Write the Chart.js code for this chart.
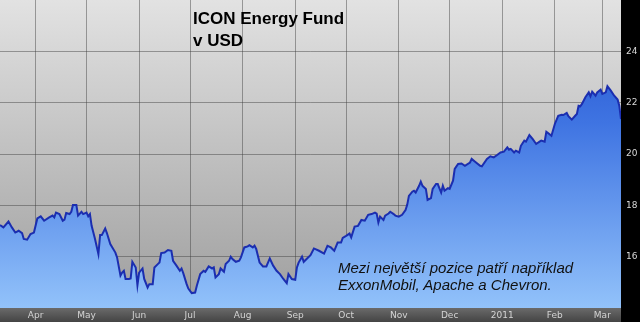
<!DOCTYPE html>
<html>
<head>
<meta charset="utf-8">
<script src="https://cdn.jsdelivr.net/npm/chart.js@4.4.0/dist/chart.umd.min.js"></script>
<style>
  html, body { margin: 0; padding: 0; background: #000; }
  #wrap { position: relative; width: 640px; height: 322px; }
  canvas { display: block; }
  .title { position: absolute; left: 193px; top: 8px; font: bold 17px "Liberation Sans", Arial, sans-serif; line-height: 22px; color: #000; }
  .note { position: absolute; left: 338px; top: 259px; font: italic 15px "Liberation Sans", Arial, sans-serif; line-height: 17px; color: #111; }
</style>
</head>
<body>
<div id="wrap">
  <canvas id="fundChart" width="640" height="322"></canvas>
  <div class="title">ICON Energy Fund<br>v USD</div>
  <div class="note">Mezi největší pozice patří například<br>ExxonMobil, Apache a Chevron.</div>
</div>
<script>
// Days since 1 Mar 2010
const days = [
  10, 12, 15, 17, 19, 21, 23, 24, 26, 28, 30, 32, 34, 36, 39, 41, 42, 43, 45, 47,
  48, 49, 51, 52, 53, 55, 56, 58, 59, 61, 62, 63, 64, 66, 68, 69, 70, 72, 73, 75,
  78, 79, 81, 82, 83, 84, 86, 87, 88, 90, 91, 92, 94, 95, 97, 98, 100, 101, 103, 104,
  105, 107, 109, 111, 112, 114, 116, 117, 118, 120, 121, 123, 125, 126, 128, 130, 131, 133, 135, 136,
  137, 139, 140, 142, 143, 145, 146, 147, 149, 151, 152, 154, 156, 157, 159, 160, 161, 163, 165, 167,
  169, 171, 173, 175, 177, 179, 180, 182, 184, 185, 186, 188, 189, 191, 193, 195, 198, 201, 203, 205,
  207, 209, 211, 212, 214, 216, 217, 219, 221, 223, 225, 227, 229, 231, 232, 233, 234, 236, 237, 239,
  240, 242, 243, 245, 247, 249, 250, 251, 253, 254, 255, 257, 258, 259, 261, 262, 264, 265, 267, 268,
  270, 271, 272, 274, 275, 277, 278, 280, 282, 284, 287, 288, 290, 293, 294, 297, 299, 301, 303, 305,
  307, 309, 310, 311, 313, 314, 316, 317, 319, 320, 322, 324, 326, 328, 329, 331, 332, 333, 335, 337,
  339, 341, 342, 344, 345, 347, 349, 350, 351, 352, 353, 355, 357, 358, 359, 361, 362, 364, 365, 367,
  368, 370, 372, 374, 375, 376
];

// Fund price, USD
const nav = [
  17.23, 17.14, 17.37, 17.14, 16.94, 17.01, 16.92, 16.69, 16.66, 16.88, 16.94, 17.49, 17.57, 17.40, 17.53, 17.60, 17.53, 17.72, 17.66, 17.40,
  17.44, 17.70, 17.66, 17.75, 18.01, 18.01, 17.60, 17.75, 17.66, 17.72, 17.57, 17.66, 17.20, 16.69, 16.10, 16.84, 16.84, 17.10, 16.92, 16.49,
  16.16, 15.97, 15.26, 15.38, 15.45, 15.13, 15.13, 15.15, 15.80, 15.58, 14.89, 15.38, 15.54, 15.13, 14.80, 14.93, 14.93, 15.58, 15.71, 15.77,
  16.14, 16.16, 16.26, 16.23, 15.84, 15.65, 15.45, 15.54, 15.36, 14.93, 14.76, 14.58, 14.60, 14.87, 15.32, 15.45, 15.41, 15.62, 15.54, 15.58,
  15.19, 15.32, 15.54, 15.41, 15.71, 15.84, 16.00, 15.91, 15.80, 15.84, 15.97, 16.36, 16.40, 16.45, 16.36, 16.43, 16.30, 15.77, 15.62, 15.62,
  15.93, 15.65, 15.45, 15.32, 15.13, 14.97, 15.32, 15.13, 15.10, 15.58, 15.77, 16.00, 15.80, 15.93, 16.06, 16.32, 16.23, 16.12, 16.42, 16.36,
  16.23, 16.55, 16.55, 16.73, 16.81, 16.90, 16.75, 17.17, 17.20, 17.43, 17.40, 17.63, 17.66, 17.72, 17.68, 17.33, 17.56, 17.43, 17.60, 17.68,
  17.75, 17.66, 17.60, 17.56, 17.63, 17.82, 18.02, 18.37, 18.53, 18.57, 18.50, 18.76, 18.92, 18.76, 18.64, 18.21, 18.28, 18.64, 18.83, 18.83,
  18.50, 18.76, 18.57, 18.67, 18.64, 18.96, 19.42, 19.61, 19.63, 19.54, 19.67, 19.81, 19.70, 19.54, 19.52, 19.81, 19.91, 19.87, 19.96, 20.06,
  20.09, 20.26, 20.17, 20.20, 20.06, 20.13, 20.06, 20.32, 20.52, 20.48, 20.74, 20.58, 20.39, 20.48, 20.52, 20.48, 20.87, 20.82, 20.71, 21.17,
  21.49, 21.53, 21.52, 21.60, 21.47, 21.34, 21.49, 21.56, 21.88, 21.86, 21.95, 22.21, 22.40, 22.25, 22.43, 22.27, 22.40, 22.51, 22.34, 22.40,
  22.64, 22.47, 22.27, 22.12, 21.88, 21.36
];

// Month starts (days since 1 Mar 2010) and their labels
const monthDays = [31, 61, 92, 122, 153, 184, 214, 245, 275, 306, 337, 365];
const monthLabels = ["Apr", "May", "Jun", "Jul", "Aug", "Sep", "Oct", "Nov", "Dec", "2011", "Feb", "Mar"];
const yTicks = [16, 18, 20, 22, 24];

const tickFont = { family: "DejaVu Sans", size: 9 };
const gridColor = "rgba(60,60,60,0.45)";

// Gray plot panel, black right strip, dark bottom strip
const backdrop = {
  id: "backdrop",
  beforeDraw(chart) {
    const { ctx, chartArea: a, width, height } = chart;
    ctx.save();
    ctx.fillStyle = "#000";
    ctx.fillRect(0, 0, width, height);
    const g = ctx.createLinearGradient(0, a.top, 0, a.bottom);
    g.addColorStop(0, "#e2e2e2");
    g.addColorStop(1, "#9e9e9e");
    ctx.fillStyle = g;
    ctx.fillRect(a.left, a.top, a.right - a.left, a.bottom - a.top);
    const s = ctx.createLinearGradient(0, a.bottom, 0, height);
    s.addColorStop(0, "#6a6a6a");
    s.addColorStop(1, "#444");
    ctx.fillStyle = s;
    ctx.fillRect(a.left, a.bottom, a.right - a.left, height - a.bottom);
    ctx.restore();
  }
};

function areaFill(c) {
  const a = c.chart.chartArea;
  if (!a) return "#5b8fe8";
  const g = c.chart.ctx.createLinearGradient(0, a.top, 0, a.bottom);
  g.addColorStop(0, "#1d4ccc");
  g.addColorStop(0.4, "#3f74e2");
  g.addColorStop(1, "#92c2fa");
  return g;
}

new Chart(document.getElementById("fundChart"), {
  type: "line",
  data: {
    datasets: [{
      label: "ICON Energy Fund",
      data: days.map((d, i) => ({ x: d, y: nav[i] })),
      borderColor: "#1b2eb0",
      borderWidth: 2,
      backgroundColor: areaFill,
      fill: "start",
      pointRadius: 0,
      tension: 0
    }]
  },
  options: {
    responsive: false,
    animation: false,
    layout: { padding: 0 },
    plugins: { legend: { display: false }, tooltip: { enabled: false } },
    scales: {
      x: {
        type: "linear",
        min: 10,
        max: 376,
        z: 1,
        afterBuildTicks: (s) => { s.ticks = monthDays.map((v) => ({ value: v })); },
        afterFit: (s) => {
          s.height = 14;
          s.paddingLeft = 0;
          s.paddingRight = 0;
        },
        ticks: {
          callback: (v, i) => monthLabels[i],
          color: "#d4d4d4",
          font: tickFont,
          padding: 2,
          autoSkip: false,
          maxRotation: 0
        },
        grid: { color: gridColor, drawTicks: false },
        border: { display: false }
      },
      y: {
        position: "right",
        min: 14,
        max: 26,
        z: 1,
        afterBuildTicks: (s) => { s.ticks = yTicks.map((v) => ({ value: v })); },
        afterFit: (s) => {
          s.width = 19;
          s.paddingTop = 0;
          s.paddingBottom = 0;
        },
        ticks: { color: "#d8d8d8", font: tickFont, padding: 5 },
        grid: { color: gridColor, drawTicks: false },
        border: { display: false }
      }
    }
  },
  plugins: [backdrop]
});
</script>
</body>
</html>
